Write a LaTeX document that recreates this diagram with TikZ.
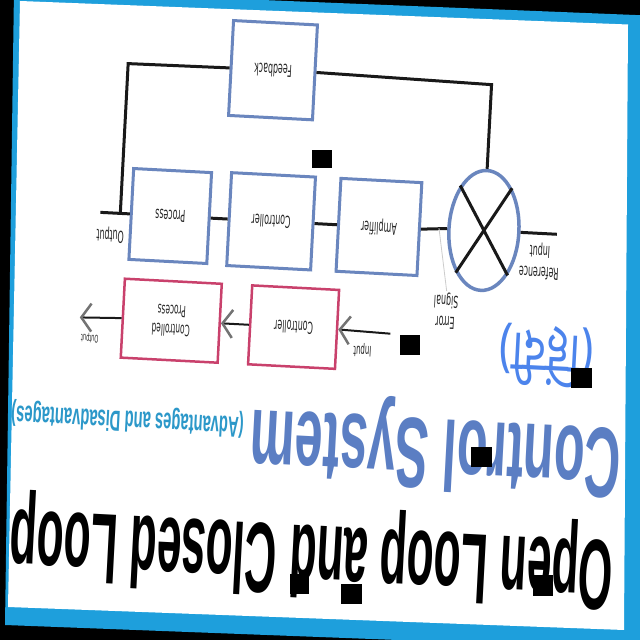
\documentclass[tikz,border=0pt]{standalone}
\usepackage{fontspec}
\usepackage{graphicx}
\setsansfont[FakeStretch=0.48]{DejaVu Sans}
\newfontfamily\headfont{Liberation Sans}
\newfontfamily\hindifont[Script=Devanagari]{Noto Sans}
\usepackage{tikz}
\usetikzlibrary{arrows.meta,shapes.geometric}

\definecolor{boxblue}{HTML}{6A86BE}
\definecolor{crimson}{HTML}{C9416C}
\definecolor{steel}{HTML}{5B7EC3}
\definecolor{skyteal}{HTML}{2C98C9}
\definecolor{hindiblue}{HTML}{4C84EC}
\definecolor{frameblue}{HTML}{1E9FDC}

\begin{document}
\begin{tikzpicture}[
  x=1pt, y=1pt,
  font=\sffamily\fontsize{16.5}{21}\selectfont,
  box/.style={draw=boxblue, line width=3pt, fill=white, minimum height=93pt,
    align=center, text=black!85, inner sep=2pt},
  sumnode/.style={draw=boxblue, line width=3.5pt, ellipse, minimum width=70pt,
    minimum height=120pt, inner sep=0pt},
  olbox/.style={draw=crimson, line width=2.5pt, fill=white, minimum height=79pt,
    align=center, text=black!85},
  wire/.style={line width=3pt, draw=black!90},
  arrow/.style={line width=2pt, draw=black!90,
    -{Straight Barb[length=10pt, width=28pt, line width=2.5pt, color=black!55]}},
  leader/.style={draw=black!20, line width=0.8pt},
  note/.style={align=center, text=black!85, inner sep=1pt},
  heading/.style={inner sep=0pt, font=\headfont\bfseries\fontsize{100}{110}\selectfont}
]
  \useasboundingbox (0,0) rectangle (640,640);
  % photo frame
  \fill[black] (0,0) rectangle (640,640);
  \fill[frameblue] (14,650) -- (660,624) -- (660,-10) -- (5,15) -- cycle;
  \fill[white] (20,639) -- (628,615.5) -- (624,10) -- (8,33) -- cycle;

  \begin{scope}[rotate around={177:(320,320)}, transform shape]
    % closed loop
    \node[sumnode] (sum) at (161,222) {};
    \node[box, minimum width=81pt] (amp) at (266,224) {Amplifier};
    \node[box, minimum width=84pt] (ctrl) at (374,224) {Controller};
    \node[box, minimum width=78pt, minimum height=91pt] (proc) at (475,224) {Process};
    \node[box, minimum width=84pt, minimum height=95pt] (fb) at (380,73) {Feedback};
    \coordinate (ref) at (88,222);
    \coordinate (tap) at (525,224);
    \coordinate (out) at (545,224);
    \coordinate (fbleft) at (525,74);
    \coordinate (fbright) at (161,76);
    \coordinate (errtap) at (206,222);

    \node[note] (reflbl) at (104,250) {Reference\\Input};
    \node[note] (errlbl) at (195,304) {Error\\Signal};
    \node[note] (outlbl) at (534,246) {Output};

    \draw[wire] (ref) -- (sum.west);
    \draw[wire] (sum.east) -- (amp.west);
    \draw[wire] (amp.east) -- (ctrl.west);
    \draw[wire] (ctrl.east) -- (proc.west);
    \draw[wire] (proc.east) -- (out);
    \draw[wire] (tap) -- (fbleft) -- (fb.east);
    \draw[wire] (fb.west) -- (fbright) -- (sum.south);
    \draw[wire] (sum.north east) -- (sum.south west);
    \draw[wire] (sum.north west) -- (sum.south east);
    \draw[leader] (errtap) -- (errlbl.south);

    % open loop
    \node[olbox, minimum width=87pt] (octrl) at (346,328.5) {Controller};
    \node[olbox, minimum width=97pt, font=\sffamily\fontsize{15.5}{19}\selectfont]
      (cproc) at (468.5,328.5) {Controlled\\Process};
    \coordinate (oin) at (249,330);
    \coordinate (oout) at (560,330);
    \node[note, font=\sffamily\fontsize{14.5}{17}\selectfont] (inlbl) at (276,348) {Input};
    \node[note, font=\sffamily\fontsize{10.5}{12}\selectfont] (ooutlbl) at (549,350) {Output};

    \draw[arrow] (oin) -- (octrl.west);
    \draw[arrow] (octrl.east) -- (cproc.west);
    \draw[arrow] (cproc.east) -- (oout);

    % titles
    \node[heading] (title) at (316,552)
      {\scalebox{0.442}[1]{Open Loop and Closed Loop}};
    \node[heading, text=steel] (subject) at (197.5,439)
      {\scalebox{0.502}[1]{Control System}};
    \node[heading, text=skyteal, font=\headfont\bfseries\fontsize{29}{32}\selectfont]
      (pros) at (507,429) {\scalebox{0.51}[1]{(Advantages and Disadvantages)}};
    \node[text=hindiblue, font=\hindifont\fontsize{58}{64}\selectfont, inner sep=0pt]
      (lang) at (92,344) {\scalebox{0.75}[1]{(हिंदी)}};
  \end{scope}

  % specks
  \foreach \x/\y/\w/\h in {312/472/20/18, 400/285/20/20, 571/252/21/20,
      471/173/21/20, 290/46/19/20, 341/36/21/20, 533/44/20/21}
    \fill[black] (\x,\y) rectangle ++(\w,\h);
\end{tikzpicture}
\end{document}
